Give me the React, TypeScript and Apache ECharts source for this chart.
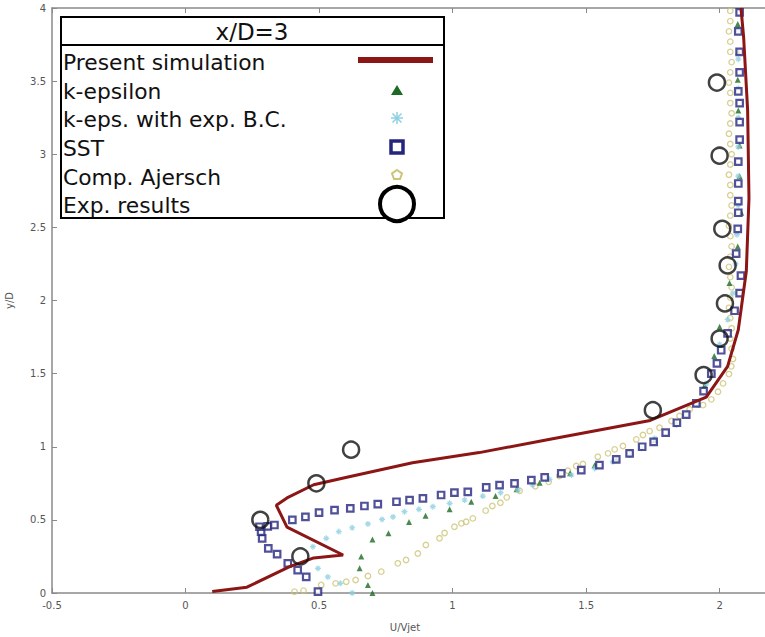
import React, { useEffect, useRef } from "react";
import * as echarts from "echarts";

// ---- data ----
const presentX = [0.1, 0.23, 0.39, 0.48, 0.59, 0.38, 0.34, 0.38, 0.48, 0.6, 0.85, 1.1, 1.36, 1.74, 1.95, 2.03, 2.07, 2.1, 2.11, 2.105, 2.09, 2.08];
const presentY = [0.01, 0.04, 0.18, 0.24, 0.26, 0.45, 0.6, 0.65, 0.74, 0.79, 0.89, 0.96, 1.05, 1.18, 1.34, 1.55, 1.8, 2.2, 2.7, 3.3, 3.8, 4.0];

const kEpsX = [0.7, 0.683, 0.652, 0.658, 0.7, 0.76, 0.837, 0.899, 0.989, 1.07, 1.161, 1.24, 1.326, 1.44, 1.532, 1.613, 1.757, 1.838, 1.944, 1.98, 2.0, 2.037, 2.068, 2.081, 2.075, 2.075, 2.07, 2.068, 2.07, 2.068];
const kEpsY = [0.0, 0.055, 0.17, 0.25, 0.365, 0.408, 0.485, 0.528, 0.572, 0.624, 0.663, 0.71, 0.754, 0.818, 0.873, 0.914, 1.046, 1.16, 1.42, 1.62, 1.82, 2.12, 2.37, 2.6, 2.85, 3.06, 3.3, 3.51, 3.7, 3.89];

const kBCX = [0.624, 0.58, 0.533, 0.496, 0.477, 0.527, 0.574, 0.624, 0.683, 0.736, 0.777, 0.82, 0.874, 0.926, 0.989, 1.045, 1.113, 1.18, 1.245, 1.3, 1.363, 1.445, 1.532, 1.6, 1.663, 1.707, 1.757, 1.838, 1.875, 1.92, 1.95, 1.974, 2.0, 2.03, 2.05, 2.06, 2.065, 2.07, 2.07, 2.07, 2.07, 2.07, 2.07, 2.07];
const kBCY = [0.0, 0.066, 0.11, 0.168, 0.317, 0.374, 0.42, 0.446, 0.472, 0.503, 0.52, 0.556, 0.572, 0.59, 0.613, 0.636, 0.663, 0.686, 0.704, 0.738, 0.777, 0.807, 0.852, 0.897, 0.943, 0.99, 1.057, 1.148, 1.217, 1.285, 1.43, 1.5, 1.7, 1.87, 2.05, 2.25, 2.45, 2.65, 2.85, 3.05, 3.25, 3.45, 3.65, 3.85];

const sstX = [0.496, 0.452, 0.42, 0.383, 0.343, 0.31, 0.287, 0.283, 0.277, 0.308, 0.333, 0.4, 0.449, 0.5, 0.558, 0.617, 0.67, 0.72, 0.79, 0.839, 0.889, 0.957, 1.007, 1.057, 1.126, 1.176, 1.232, 1.295, 1.345, 1.407, 1.482, 1.55, 1.613, 1.663, 1.71, 1.753, 1.798, 1.84, 1.875, 1.913, 1.94, 1.969, 1.99, 2.006, 2.03, 2.056, 2.075, 2.08, 2.062, 2.068, 2.07, 2.07, 2.07, 2.07, 2.075, 2.075, 2.075, 2.07, 2.075, 2.075, 2.07, 2.075];
const sstY = [0.01, 0.11, 0.157, 0.203, 0.266, 0.305, 0.374, 0.42, 0.453, 0.455, 0.465, 0.5, 0.52, 0.55, 0.567, 0.579, 0.595, 0.608, 0.624, 0.635, 0.647, 0.67, 0.686, 0.692, 0.722, 0.738, 0.75, 0.772, 0.79, 0.818, 0.84, 0.875, 0.914, 0.955, 1.0, 1.034, 1.096, 1.164, 1.22, 1.297, 1.38, 1.5, 1.57, 1.66, 1.775, 1.93, 2.05, 2.17, 2.32, 2.49, 2.6, 2.68, 2.8, 2.95, 3.1, 3.22, 3.35, 3.43, 3.56, 3.7, 3.84, 3.97];

const ajerschX = [0.408, 0.442, 0.508, 0.562, 0.602, 0.637, 0.683, 0.733, 0.795, 0.826, 0.87, 0.9, 0.951, 0.97, 1.007, 1.033, 1.051, 1.076, 1.124, 1.149, 1.179, 1.203, 1.251, 1.31, 1.36, 1.4, 1.432, 1.463, 1.488, 1.544, 1.582, 1.607, 1.638, 1.688, 1.713, 1.738, 1.775, 1.82, 1.85, 1.888, 1.938, 1.969, 1.994, 2.013, 2.035, 2.044,
  2.05, 2.045, 2.04, 2.045, 2.04, 2.035, 2.04, 2.045, 2.04, 2.035, 2.04, 2.045, 2.04, 2.035, 2.04, 2.045, 2.04, 2.04, 2.035, 2.04, 2.045, 2.04, 2.035, 2.04, 2.045, 2.04, 2.04, 2.035, 2.04, 2.045, 2.04, 2.04, 2.035, 2.04, 2.04];
const ajerschY = [0.009, 0.016, 0.055, 0.066, 0.077, 0.089, 0.116, 0.146, 0.203, 0.226, 0.27, 0.328, 0.374, 0.41, 0.453, 0.476, 0.487, 0.51, 0.563, 0.595, 0.617, 0.654, 0.699, 0.73, 0.76, 0.8, 0.836, 0.868, 0.882, 0.932, 0.955, 0.982, 1.005, 1.05, 1.08, 1.107, 1.13, 1.176, 1.21, 1.256, 1.285, 1.324, 1.376, 1.433, 1.497, 1.55,
  1.6, 1.67, 1.74, 1.81, 1.88, 1.95, 2.02, 2.09, 2.16, 2.23, 2.3, 2.37, 2.44, 2.51, 2.58, 2.65, 2.72, 2.79, 2.86, 2.93, 3.0, 3.07, 3.14, 3.21, 3.28, 3.35, 3.42, 3.49, 3.56, 3.63, 3.7, 3.77, 3.84, 3.91, 3.98];

const expX = [0.43, 0.28, 0.49, 0.62, 1.75, 1.94, 2.0, 2.02, 2.03, 2.01, 2.0, 1.99];
const expY = [0.25, 0.5, 0.75, 0.98, 1.25, 1.49, 1.74, 1.98, 2.24, 2.49, 2.99, 3.49];

const legendTitle = "x/D=3";
const legendNames = ["Present simulation", "k-epsilon", "k-eps. with exp. B.C.", "SST", "Comp. Ajersch", "Exp. results"];
const xName = "U/Vjet";
const yName = "y/D";

const pairs = (xs: number[], ys: number[]) => xs.map((x, i) => [x, ys[i]]);

const C_LINE = "#8c1515";
const C_KEPS = "#1d6b22";
const C_KBC = "#8ccfe0";
const C_SST = "#25257f";
const C_AJ = "#cdc477";
const FONT = "DejaVu Sans";

const asteriskPath =
  "path://M4,0 L6,0 L6,10 L4,10 Z M0,4 L10,4 L10,6 L0,6 Z M1,2.4 L2.4,1 L9,7.6 L7.6,9 Z M7.6,1 L9,2.4 L2.4,9 L1,7.6 Z";

export default function App() {
  const ref = useRef<HTMLDivElement>(null);
  useEffect(() => {
    if (!ref.current) return;
    const chart = echarts.init(ref.current, undefined, { renderer: "svg" });
    const rowY = [62, 91, 119, 148, 177, 205];
    const iconX = 397;
    const legendGraphics: any[] = [
      { type: "rect", shape: { x: 61, y: 17, width: 383, height: 201 }, style: { fill: "#fff", stroke: "#000", lineWidth: 2 }, z: 100 },
      { type: "line", shape: { x1: 61, y1: 45, x2: 444, y2: 45 }, style: { stroke: "#000", lineWidth: 2 }, z: 101 },
      { type: "text", x: 252, y: 32, style: { text: legendTitle, font: `23px ${FONT}`, fill: "#111", align: "center", verticalAlign: "middle" }, z: 101 },
      ...legendNames.map((n, i) => ({
        type: "text", x: 63, y: rowY[i], style: { text: n, font: `21.8px ${FONT}`, fill: "#111", align: "left", verticalAlign: "middle" }, z: 101,
      })),
      { type: "line", shape: { x1: 358, y1: 60, x2: 433, y2: 60 }, style: { stroke: C_LINE, lineWidth: 6 }, z: 101 },
      { type: "polygon", shape: { points: [[iconX, 85], [iconX + 6, 95], [iconX - 6, 95]] }, style: { fill: C_KEPS }, z: 101 },
      { type: "line", shape: { x1: iconX - 6, y1: 118, x2: iconX + 6, y2: 118 }, style: { stroke: C_KBC, lineWidth: 1.5 }, z: 101 },
      { type: "line", shape: { x1: iconX, y1: 112, x2: iconX, y2: 124 }, style: { stroke: C_KBC, lineWidth: 1.5 }, z: 101 },
      { type: "line", shape: { x1: iconX - 4.5, y1: 113.5, x2: iconX + 4.5, y2: 122.5 }, style: { stroke: C_KBC, lineWidth: 1.5 }, z: 101 },
      { type: "line", shape: { x1: iconX + 4.5, y1: 113.5, x2: iconX - 4.5, y2: 122.5 }, style: { stroke: C_KBC, lineWidth: 1.5 }, z: 101 },
      { type: "rect", shape: { x: iconX - 6, y: 141, width: 12, height: 12 }, style: { fill: "#fff", stroke: C_SST, lineWidth: 3.5 }, z: 101 },
      { type: "polygon", shape: { points: [[iconX, 170], [iconX + 5, 173.5], [iconX + 3, 179], [iconX - 3, 179], [iconX - 5, 173.5]] }, style: { fill: "#fff", stroke: C_AJ, lineWidth: 2 }, z: 101 },
      { type: "circle", shape: { cx: iconX, cy: 204, r: 17 }, style: { fill: "#fff", stroke: "#000", lineWidth: 4 }, z: 102 },
      { type: "text", x: 405, y: 627, style: { text: xName, font: `10px ${FONT}`, fill: "#555", align: "center", verticalAlign: "middle" } },
    ];
    const axisLine = { show: true, onZero: false, lineStyle: { color: "#8a8a8a", width: 1.5 } };
    const tick = { show: true, inside: true, length: 5, lineStyle: { color: "#8a8a8a" } };
    chart.setOption({
      animation: false,
      backgroundColor: "#fff",
      grid: { left: 52, right: 0, top: 8, bottom: 44, outerBoundsMode: "none", containLabel: false },
      xAxis: [
        {
          type: "value", min: -0.5, max: 2.17, interval: 0.5, position: "bottom",
          axisLine, axisTick: tick,
          axisLabel: { fontSize: 10, color: "#555", fontFamily: FONT, margin: 7, showMaxLabel: false },
          splitLine: { show: false },
        },
        {
          type: "value", min: -0.5, max: 2.17, interval: 0.5, position: "top",
          axisLine, axisTick: tick,
          axisLabel: { show: false }, splitLine: { show: false },
        },
      ],
      yAxis: {
        type: "value", min: 0, max: 4, interval: 0.5,
        name: yName, nameLocation: "middle", nameGap: 38, nameRotate: 90,
        nameTextStyle: { fontSize: 10, color: "#555", fontFamily: FONT },
        axisLine, axisTick: tick,
        axisLabel: { fontSize: 10, color: "#555", fontFamily: FONT, margin: 6 },
        splitLine: { show: false },
      },
      series: [
        { name: legendNames[4], type: "scatter", data: pairs(ajerschX, ajerschY), symbol: "circle", symbolSize: 5.5, itemStyle: { color: "rgba(255,255,255,0)", borderColor: C_AJ, borderWidth: 1.3 }, z: 2 },
        { name: legendNames[1], type: "scatter", data: pairs(kEpsX, kEpsY), symbol: "triangle", symbolSize: 6, itemStyle: { color: C_KEPS }, z: 3 },
        { name: legendNames[2], type: "scatter", data: pairs(kBCX, kBCY), symbol: asteriskPath, symbolSize: 6, itemStyle: { color: C_KBC }, z: 3 },
        { name: legendNames[3], type: "scatter", data: pairs(sstX, sstY), symbol: "rect", symbolSize: 6.5, itemStyle: { color: "#fff", borderColor: C_SST, borderWidth: 2.2 }, z: 4 },
        { name: legendNames[0], type: "line", data: pairs(presentX, presentY), showSymbol: false, symbol: "none", lineStyle: { color: C_LINE, width: 3 }, z: 5 },
        { name: legendNames[5], type: "scatter", data: pairs(expX, expY), symbol: "circle", symbolSize: 16, itemStyle: { color: "rgba(255,255,255,0)", borderColor: "#111", borderWidth: 2.5 }, z: 6 },
      ],
      graphic: legendGraphics,
    });
    return () => chart.dispose();
  }, []);
  return <div ref={ref} style={{ position: "fixed", left: 0, top: 0, width: 765, height: 637 }} />;
}
